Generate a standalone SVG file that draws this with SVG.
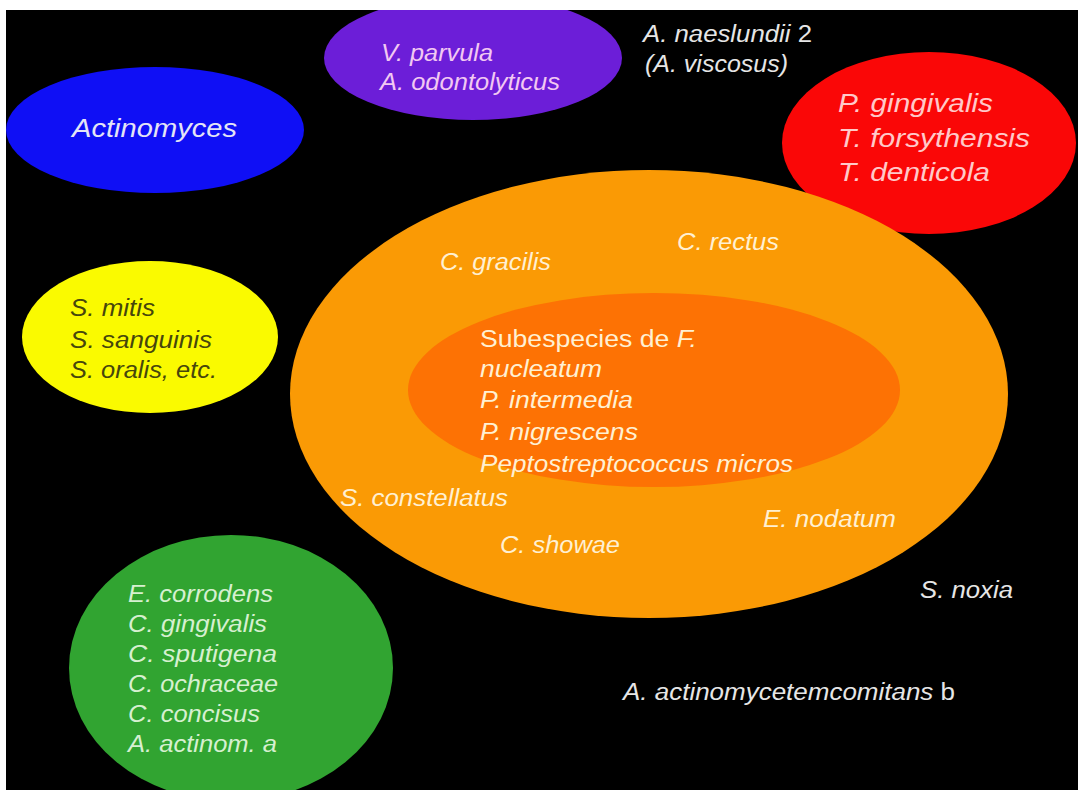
<svg xmlns="http://www.w3.org/2000/svg" width="1078" height="790" viewBox="0 0 1078 790">
<defs>
<clipPath id="panel"><rect x="6" y="10" width="1072" height="780"/></clipPath>
<style>
text{font-family:"Liberation Sans",Arial,sans-serif;font-style:italic;font-size:23px}
.up{font-style:normal}
.w{fill:#e6e6e6}
.onBlue{fill:#e4e4f6}
.onPurple{fill:#f2c8f2}
.onRed{fill:#ffc9c9}
.onYellow{fill:#46460c}
.onOrange{fill:#fff0d2}
.onGreen{fill:#d6f0d0}
</style>
</defs>
<rect x="0" y="0" width="1078" height="790" fill="#ffffff"/>
<rect x="6" y="10" width="1072" height="780" fill="#000000"/>
<g clip-path="url(#panel)">
<g id="actinomyces">
<ellipse cx="155" cy="130" rx="149" ry="63" fill="#0f0ff5"/>
<text class="onBlue" x="72" y="137" style="font-size:26px" textLength="165" lengthAdjust="spacingAndGlyphs">Actinomyces</text>
</g>
<g id="purple">
<ellipse cx="473" cy="58" rx="149" ry="62" fill="#6c1ed8"/>
<text class="onPurple" x="381" y="61" textLength="112" lengthAdjust="spacingAndGlyphs">V. parvula</text>
<text class="onPurple" x="380" y="90" textLength="180" lengthAdjust="spacingAndGlyphs">A. odontolyticus</text>
</g>
<g id="naeslundii">
<text class="w" x="643" y="42" textLength="169" lengthAdjust="spacingAndGlyphs">A. naeslundii <tspan class="up">2</tspan></text>
<text class="w" x="645" y="72" textLength="143" lengthAdjust="spacingAndGlyphs">(A. viscosus)</text>
</g>
<g id="red">
<ellipse cx="929" cy="143" rx="147" ry="91" fill="#fa0707"/>
<text class="onRed" x="838" y="112" style="font-size:26px" textLength="155" lengthAdjust="spacingAndGlyphs">P. gingivalis</text>
<text class="onRed" x="838" y="147" style="font-size:26px" textLength="192" lengthAdjust="spacingAndGlyphs">T. forsythensis</text>
<text class="onRed" x="838" y="181" style="font-size:26px" textLength="152" lengthAdjust="spacingAndGlyphs">T. denticola</text>
</g>
<g id="yellow">
<ellipse cx="150" cy="337" rx="128" ry="76" fill="#fafa00"/>
<text class="onYellow" x="70" y="316" textLength="85" lengthAdjust="spacingAndGlyphs">S. mitis</text>
<text class="onYellow" x="70" y="348" textLength="142" lengthAdjust="spacingAndGlyphs">S. sanguinis</text>
<text class="onYellow" x="70" y="378" textLength="147" lengthAdjust="spacingAndGlyphs">S. oralis, etc.</text>
</g>
<g id="orange">
<ellipse cx="649" cy="394" rx="359" ry="224" fill="#fa9a05"/>
<text class="onOrange" x="440" y="270" textLength="111" lengthAdjust="spacingAndGlyphs">C. gracilis</text>
<text class="onOrange" x="677" y="250" textLength="102" lengthAdjust="spacingAndGlyphs">C. rectus</text>
<text class="onOrange" x="340" y="506" textLength="168" lengthAdjust="spacingAndGlyphs">S. constellatus</text>
<text class="onOrange" x="763" y="527" textLength="133" lengthAdjust="spacingAndGlyphs">E. nodatum</text>
<text class="onOrange" x="500" y="553" textLength="120" lengthAdjust="spacingAndGlyphs">C. showae</text>
</g>
<g id="inner">
<ellipse cx="654" cy="390" rx="246" ry="97" fill="#fd7204"/>
<text class="onOrange" x="480" y="347" textLength="217" lengthAdjust="spacingAndGlyphs"><tspan class="up">Subespecies de </tspan>F.</text>
<text class="onOrange" x="480" y="377" textLength="122" lengthAdjust="spacingAndGlyphs">nucleatum</text>
<text class="onOrange" x="480" y="408" textLength="153" lengthAdjust="spacingAndGlyphs">P. intermedia</text>
<text class="onOrange" x="480" y="440" textLength="158" lengthAdjust="spacingAndGlyphs">P. nigrescens</text>
<text class="onOrange" x="480" y="472" textLength="313" lengthAdjust="spacingAndGlyphs">Peptostreptococcus micros</text>
</g>
<g id="green">
<ellipse cx="231" cy="668" rx="162" ry="133" fill="#31a431"/>
<text class="onGreen" x="128" y="602" textLength="145" lengthAdjust="spacingAndGlyphs">E. corrodens</text>
<text class="onGreen" x="128" y="632" textLength="139" lengthAdjust="spacingAndGlyphs">C. gingivalis</text>
<text class="onGreen" x="128" y="662" textLength="149" lengthAdjust="spacingAndGlyphs">C. sputigena</text>
<text class="onGreen" x="128" y="692" textLength="150" lengthAdjust="spacingAndGlyphs">C. ochraceae</text>
<text class="onGreen" x="128" y="722" textLength="132" lengthAdjust="spacingAndGlyphs">C. concisus</text>
<text class="onGreen" x="128" y="752" textLength="149" lengthAdjust="spacingAndGlyphs">A. actinom. a</text>
</g>
<g id="noxia">
<text class="w" x="920" y="598" textLength="93" lengthAdjust="spacingAndGlyphs">S. noxia</text>
</g>
<g id="actinomycetemcomitans">
<text class="w" x="623" y="700" textLength="332" lengthAdjust="spacingAndGlyphs">A. actinomycetemcomitans <tspan class="up">b</tspan></text>
</g>
</g>
<g id="connectors"/>
</svg>
